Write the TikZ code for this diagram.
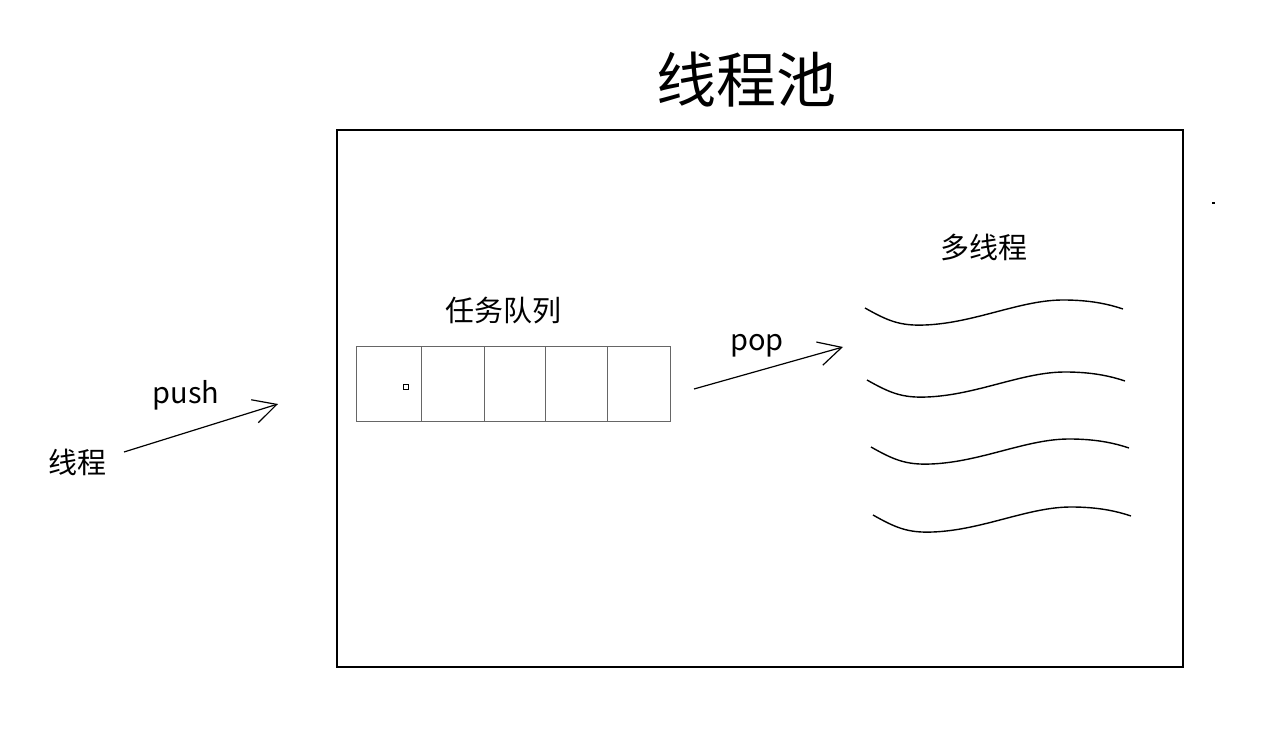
\documentclass[tikz,border=0pt]{standalone}
\usepackage{fontspec}
\setmainfont{Noto Sans CJK SC}
\usetikzlibrary{arrows.meta}
\begin{document}
\begin{tikzpicture}[x=1pt,y=-1pt,
  cell/.style={draw=black!60, line width=0.9pt},
  lbl/.style={inner sep=0pt, font=\fontsize{29}{32}\selectfont},
  arr/.style={line width=1.2pt, -{Straight Barb[length=23pt,width=24pt,line width=1.2pt]}},
  wave/.style={line width=1.4pt}]
\useasboundingbox (0,0) rectangle (1261,746);
\fill[white] (0,0) rectangle (1261,746);
% title
\node[inner sep=0pt, font=\fontsize{60}{64}\selectfont] (title) at (746,80) {线程池};
% pool box
\draw[line width=1.3pt] (337,130) rectangle (1183,667);
\node[fill=black, inner sep=0pt, minimum width=3pt, minimum height=2pt] (dot) at (1213,203) {};
% queue
\node[lbl] (queuelbl) at (503,311) {任务队列};
\node[cell, minimum width=65pt, minimum height=75pt, inner sep=0pt] (c1) at (388.5,383.5) {};
\node[cell, minimum width=63pt, minimum height=75pt, inner sep=0pt] (c2) at (452.5,383.5) {};
\node[cell, minimum width=61pt, minimum height=75pt, inner sep=0pt] (c3) at (514.5,383.5) {};
\node[cell, minimum width=62pt, minimum height=75pt, inner sep=0pt] (c4) at (576,383.5) {};
\node[cell, minimum width=63pt, minimum height=75pt, inner sep=0pt] (c5) at (638.5,383.5) {};
\node[draw=black, line width=0.9pt, minimum size=5pt, inner sep=0pt] (sq) at (405.5,386.5) {};
% push
\node[lbl] (thread) at (77,462) {线程};
\node[lbl] (push) at (186,395) {push};
\coordinate (pushs) at (124,452);
\coordinate (pushe) at (278,404);
\draw[arr] (pushs) -- (pushe);
% pop
\node[lbl] (pop) at (757,346) {pop};
\coordinate (pops) at (694,389);
\coordinate (pope) at (843,347);
\draw[arr] (pops) -- (pope);
% threads
\node[lbl] (multi) at (984,247) {多线程};
\foreach \dx/\dy [count=\i] in {0/0, 2/72, 6/139, 8/207} {
  \begin{scope}[shift={(\dx,\dy)}]
  \draw[wave] (865,308) .. controls (888,321) and (900,326) .. (925,325)
     .. controls (975,323) and (1020,300) .. (1063,300)
     .. controls (1090,300) and (1108,304) .. (1123,309);
  \end{scope}
}
\end{tikzpicture}
\end{document}
